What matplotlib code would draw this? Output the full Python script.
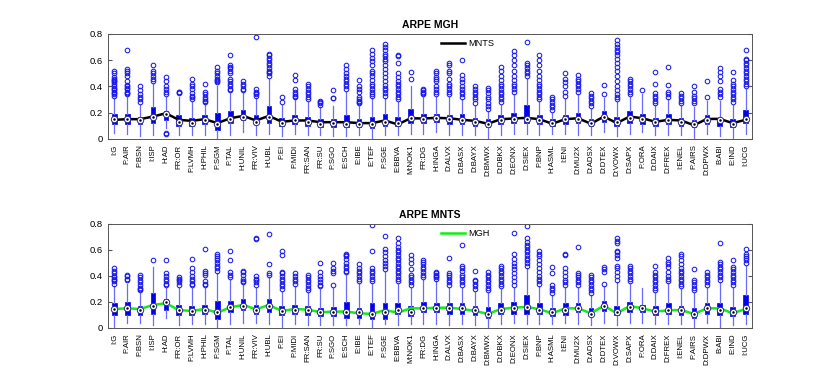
import matplotlib
matplotlib.use("Agg")
import matplotlib.pyplot as plt

plt.rcParams['font.family'] = ['Liberation Sans', 'DejaVu Sans']

LABELS = ["I:G", "F:AIR", "F:BSN", "I:ISP", "H:AD", "FR:OR", "F:LVMH", "H:PHIL", "F:SGM", "F:TAL",
          "H:UNIL", "FR:VIV", "H:UBL", "F:EI", "F:MIDI", "FR:SAN", "FR:SU", "F:SGO", "E:SCH", "E:IBE",
          "E:TEF", "F:SGE", "E:BBVA", "M:NOK1", "FR:DG", "H:INGA", "D:ALVX", "D:BASX", "D:BAYX", "D:BMWX",
          "D:DBKX", "D:EONX", "D:SIEX", "F:BNP", "H:ASML", "I:ENI", "D:MU2X", "D:ADSX", "D:DTEX", "D:VOWX",
          "D:SAPX", "F:ORA", "D:DAIX", "D:FREX", "I:ENEL", "F:AIRS", "D:DPWX", "B:ABI", "E:IND", "I:UCG"]

# ARPE MGH boxes: q1, median, q3, lower whisker, upper whisker
MGH_Q1 = [.11, .11, .11, .12, .14, .10, .10, .11, .07, .12, .14, .11, .12, .10, .11, .10, .09, .09, .09, .09,
          .08, .10, .10, .12, .12, .13, .11, .11, .10, .09, .11, .12, .12, .11, .10, .11, .12, .10, .13, .10,
          .12, .11, .10, .11, .10, .09, .11, .10, .09, .12]
MGH_MED = [.15, .15, .14, .17, .19, .13, .12, .14, .11, .15, .17, .13, .17, .12, .14, .13, .11, .12, .11, .11,
           .11, .13, .12, .16, .15, .16, .15, .14, .13, .11, .14, .15, .15, .14, .12, .15, .15, .12, .17, .13,
           .16, .15, .13, .14, .13, .11, .14, .14, .11, .15]
MGH_Q3 = [.19, .19, .17, .24, .21, .18, .16, .18, .20, .21, .22, .18, .25, .16, .18, .17, .15, .15, .18, .15,
          .17, .19, .17, .23, .19, .19, .18, .19, .16, .15, .18, .20, .26, .18, .15, .18, .20, .15, .21, .17,
          .21, .19, .16, .19, .16, .14, .18, .16, .15, .22]
MGH_LO = [.043, .04, .02, .03, .08, .03, .03, .03, .0, .03, .05, .03, .04, .02, .04, .03, .03, .02, .02, .03,
          .01, .03, .03, .04, .04, .05, .03, .03, .03, .01, .03, .04, .04, .03, .04, .04, .03, .03, .05, .02,
          .04, .05, .03, .03, .03, .01, .04, .02, .01, .04]
MGH_HI = [.31, .32, .26, .42, .32, .32, .28, .27, .40, .35, .35, .31, .46, .26, .30, .28, .24, .25, .36, .25,
          .31, .31, .28, .40, .32, .32, .32, .30, .25, .21, .26, .34, .46, .28, .20, .30, .34, .23, .31, .28,
          .32, .34, .25, .30, .25, .24, .29, .29, .26, .38]
MGH_FLIERS = [
    [.33, .34, .35, .36, .37, .38, .39, .40, .42, .43, .44, .45, .46, .47, .50, .52],
    [.34, .35, .36, .38, .39, .40, .41, .44, .48, .50, .52, .53, .68],
    [.28, .30, .32, .34, .37, .40],
    [.44, .46, .48, .50, .52, .56],
    [.04, .045, .34, .36, .38, .40, .44, .47],
    [.35, .355, .36],
    [.30, .32, .33, .35, .38, .40, .42, .46],
    [.28, .29, .30, .32, .34, .36, .42],
    [.43, .44, .45, .46, .48, .50, .52, .55],
    [.37, .38, .40, .42, .44, .46, .50, .52, .54, .55, .56, .64],
    [.37, .38, .40, .42, .44],
    [.33, .34, .35, .36, .38, .78],
    [.48, .50, .51, .52, .54, .56, .58, .60, .62, .64, .65],
    [.28, .32],
    [.32, .33, .34, .36, .38, .45, .49],
    [.30, .32, .34, .36, .38, .40, .42],
    [.26, .27, .28, .29],
    [.31, .315, .37],
    [.38, .40, .42, .44, .46, .48, .50, .53, .56],
    [.27, .28, .29, .30, .32, .36, .38, .40, .45],
    [.33, .34, .36, .38, .40, .42, .45, .48, .50, .52, .56, .59, .62, .65, .68],
    [.33, .35, .37, .39, .41, .44, .47, .50, .53, .56, .59, .61, .63, .65, .68, .70, .72],
    [.30, .32, .34, .36, .38, .40, .42, .44, .47, .50, .58, .63, .64],
    [.46, .51],
    [.34, .35, .36, .37, .38],
    [.34, .36, .38, .40, .44, .46, .47, .50, .52],
    [.34, .36, .38, .40, .42, .46, .50, .52, .56, .58],
    [.32, .34, .36, .38, .40, .43, .46, .49, .60],
    [.27, .30, .32, .34, .36, .38, .40],
    [.23, .25, .27, .30, .32, .35, .37, .39],
    [.28, .30, .32, .34, .36, .38, .40, .42, .45, .48, .52, .55],
    [.36, .38, .40, .42, .45, .48, .52, .56, .60, .64, .67],
    [.48, .50, .52, .54, .56, .58, .74],
    [.30, .32, .34, .36, .38, .40, .42, .45, .48, .52, .56, .60, .64],
    [.22, .24, .26, .28, .30, .32],
    [.33, .36, .40, .43, .46, .50],
    [.36, .38, .40, .42, .44, .46, .49],
    [.25, .27, .29, .31, .33, .35],
    [.34, .41],
    [.30, .32, .34, .37, .40, .44, .48, .52, .55, .58, .61, .64, .66, .68, .70, .72, .75],
    [.34, .36, .38, .40, .42, .44, .46],
    [.37],
    [.27, .29, .31, .33, .35, .42, .51],
    [.32, .34, .36, .41, .55],
    [.27, .29, .31, .33, .35],
    [.27, .29, .31, .33, .36, .40],
    [.32, .44],
    [.32, .34, .36, .38, .44, .48, .51, .54],
    [.28, .30, .32, .34, .36, .38, .40, .42, .45, .51],
    [.40, .42, .44, .46, .48, .50, .52, .54, .56, .58, .60, .61, .68],
]

# ARPE MNTS boxes
MNTS_Q1 = [.10, .10, .10, .11, .14, .10, .10, .11, .07, .12, .14, .11, .12, .10, .11, .10, .09, .09, .08, .08,
           .07, .07, .11, .09, .12, .12, .11, .11, .10, .08, .11, .11, .11, .11, .09, .10, .12, .09, .13, .10,
           .12, .12, .10, .11, .10, .08, .11, .10, .09, .11]
MNTS_MED = [.146, .15, .14, .17, .20, .14, .13, .14, .12, .16, .17, .14, .17, .13, .14, .14, .12, .12, .12, .12,
            .11, .12, .14, .12, .15, .15, .15, .15, .14, .11, .14, .15, .16, .14, .12, .14, .15, .11, .17, .12,
            .16, .15, .13, .14, .14, .11, .15, .14, .12, .15]
MNTS_Q3 = [.19, .20, .17, .27, .22, .18, .17, .18, .21, .21, .22, .18, .22, .17, .18, .17, .15, .16, .20, .15,
           .19, .19, .19, .17, .20, .19, .19, .19, .17, .16, .19, .20, .25, .19, .15, .19, .19, .15, .21, .17,
           .20, .18, .17, .19, .17, .15, .19, .19, .16, .25]
MNTS_LO = [.0, .04, .04, .02, .08, .02, .03, .03, .0, .03, .04, .04, .03, .01, .03, .02, .02, .02, .02, .03,
           .01, .03, .02, .03, .03, .03, .02, .03, .02, .01, .03, .04, .03, .03, .03, .04, .03, .02, .04, .02,
           .04, .04, .03, .03, .03, .01, .04, .0, .02, .03]
MNTS_HI = [.32, .34, .27, .47, .31, .31, .31, .31, .42, .37, .33, .31, .39, .28, .32, .27, .30, .31, .41, .34,
           .34, .43, .34, .31, .37, .36, .31, .31, .28, .27, .30, .31, .46, .32, .25, .31, .31, .25, .32, .35,
           .34, .31, .27, .34, .30, .27, .31, .35, .31, .48]
MNTS_FLIERS = [
    [.34, .36, .37, .38, .39, .40, .42, .44, .46],
    [.37, .38, .40, .41],
    [.29, .30, .31, .33, .35, .37, .39, .41],
    [.52],
    [.33, .34, .36, .38, .40, .42, .52],
    [.33, .35, .37, .38, .39],
    [.33, .34, .36, .38, .40, .43, .46, .53],
    [.33, .34, .36, .41, .42, .44, .61],
    [.44, .46, .48, .50, .52, .54, .55, .57],
    [.39, .41, .43, .52, .59],
    [.35, .36, .38, .41, .43, .44],
    [.33, .35, .37, .38, .40, .68, .69],
    [.41, .42, .49, .72],
    [.30, .32, .34, .36, .38, .40, .42, .43, .56, .59],
    [.34, .36, .38, .40, .42],
    [.29, .31, .33, .35, .37, .39, .41],
    [.32, .33, .35, .38, .40, .43, .50],
    [.33, .42, .44, .46, .50],
    [.43, .44, .46, .48, .50, .53, .55, .56, .57],
    [.36, .38, .40, .42, .44, .46, .49],
    [.36, .38, .40, .42, .44, .46, .59, .79],
    [.45, .48, .50, .52, .55, .58, .61, .71],
    [.36, .38, .40, .42, .44, .46, .48, .50, .52, .54, .56, .58, .60, .62, .65, .69],
    [.33, .35, .37, .39, .41, .45, .50, .53, .56],
    [.39, .41, .43, .45, .47, .49, .51, .52],
    [.38, .39, .40, .41, .42, .43],
    [.33, .35, .37, .39, .41, .42, .54],
    [.33, .35, .37, .39, .41, .44, .46, .48, .64],
    [.30, .32, .34, .36, .37, .44],
    [.29, .31, .33, .35, .37, .39, .41, .43],
    [.32, .34, .36, .38, .40, .42, .44, .46, .48],
    [.33, .36, .39, .42, .45, .48, .50, .53, .57, .73],
    [.48, .50, .52, .54, .56, .58, .60, .62, .64, .66, .69, .78],
    [.34, .36, .38, .40, .43, .46, .49, .52, .55, .57, .59],
    [.27, .29, .31, .33, .42, .47],
    [.33, .35, .37, .40, .43, .46, .56, .57],
    [.33, .35, .37, .39, .41, .42, .62],
    [.27, .29, .31, .33, .35, .37, .39, .41],
    [.34, .43, .45, .47],
    [.37, .40, .43, .46, .48, .54, .56, .58, .59, .65, .67, .69],
    [.36, .38, .40, .42, .44, .46, .48],
    [],
    [.29, .31, .33, .35, .37, .39, .41, .43, .48],
    [.36, .38, .40, .43, .47, .49, .51, .54],
    [.32, .34, .36, .38, .40, .42, .44, .46, .49, .52, .55, .57],
    [.29, .31, .33, .35, .37, .45],
    [.33, .35, .37, .39, .41, .43],
    [.37, .39, .41, .43, .45, .47, .49, .51, .65],
    [.33, .35, .37, .39, .41, .43, .45, .47, .52],
    [.50, .52, .54, .55, .57, .61],
]

# overlaid median line of the other model
MNTS_LINE = [.145, .15, .15, .17, .195, .145, .137, .15, .12, .157, .175, .14, .175, .13, .14, .14, .127, .127,
             .127, .12, .12, .14, .11, .157, .155, .16, .157, .145, .137, .115, .15, .155, .16, .15, .115, .15,
             .157, .115, .17, .12, .17, .157, .13, .145, .14, .104, .152, .152, .12, .145]
MGH_LINE = [.146, .151, .146, .177, .19, .138, .131, .146, .118, .159, .177, .144, .177, .131, .146, .141, .121,
            .126, .126, .113, .108, .138, .118, .151, .151, .156, .156, .146, .131, .108, .146, .156, .162, .144,
            .113, .151, .151, .113, .172, .113, .169, .151, .126, .136, .138, .108, .151, .151, .113, .146]


def draw_panel(ax, title, q1, med, q3, lo, hi, fliers, line, line_name, line_color):
  stats = []
  for i in range(len(LABELS)):
    stats.append(dict(q1=q1[i], med=med[i], q3=q3[i], whislo=lo[i], whishi=hi[i],
                      fliers=fliers[i], label=LABELS[i]))
  pos = list(range(1, len(LABELS) + 1))

  ax.bxp(stats, positions=pos, widths=0.36, showcaps=False, patch_artist=True,
         boxprops=dict(facecolor='#0000ee', edgecolor='#0000ee', linewidth=0.5),
         whiskerprops=dict(color='#6a6aff', linewidth=0.9),
         medianprops=dict(linestyle='none'),
         flierprops=dict(marker='o', markerfacecolor='none', markeredgecolor='#1a1aee',
                         markersize=3.3, markeredgewidth=0.75))
  ax.plot(pos, med, linestyle='none', marker='o', markersize=4.6, markerfacecolor='white',
          markeredgecolor='#2a2a90', markeredgewidth=0.7, zorder=4)
  ax.plot(pos, med, linestyle='none', marker='.', markersize=1.6, color='black', zorder=5)
  ax.plot(pos, line, color=line_color, linewidth=1.8, label=line_name, zorder=3)

  ax.set_xlim(0.5, len(LABELS) + 0.5)
  ax.set_ylim(0, 0.8)
  ax.set_yticks([0, 0.2, 0.4, 0.6, 0.8])
  ax.set_yticklabels(['0', '0.2', '0.4', '0.6', '0.8'])
  ax.set_xticks(pos)
  ax.set_xticklabels(LABELS, rotation=90, fontsize=5.6)
  ax.tick_params(axis='x', length=0, pad=4)
  ax.tick_params(axis='y', direction='in', length=3, labelsize=6.8, right=True, color='#555555')
  for s in ax.spines.values():
    s.set_color('#555555')
    s.set_linewidth(0.7)
  ax.set_title(title, fontsize=7.5, fontweight='bold', pad=4)
  ax.legend(loc='upper left', bbox_to_anchor=(0.505, 1.03), frameon=False, fontsize=6.6,
            handlelength=2.6, handletextpad=0.3)


fig = plt.figure(figsize=(8.3, 3.9), dpi=100)
ax1 = fig.add_axes([0.130, 0.644, 0.776, 0.269])
ax2 = fig.add_axes([0.130, 0.159, 0.776, 0.267])

draw_panel(ax1, 'ARPE MGH', MGH_Q1, MGH_MED, MGH_Q3, MGH_LO, MGH_HI, MGH_FLIERS,
           MNTS_LINE, 'MNTS', 'black')
draw_panel(ax2, 'ARPE MNTS', MNTS_Q1, MNTS_MED, MNTS_Q3, MNTS_LO, MNTS_HI, MNTS_FLIERS,
           MGH_LINE, 'MGH', '#11ee11')

fig.savefig('out.png', dpi=100)
